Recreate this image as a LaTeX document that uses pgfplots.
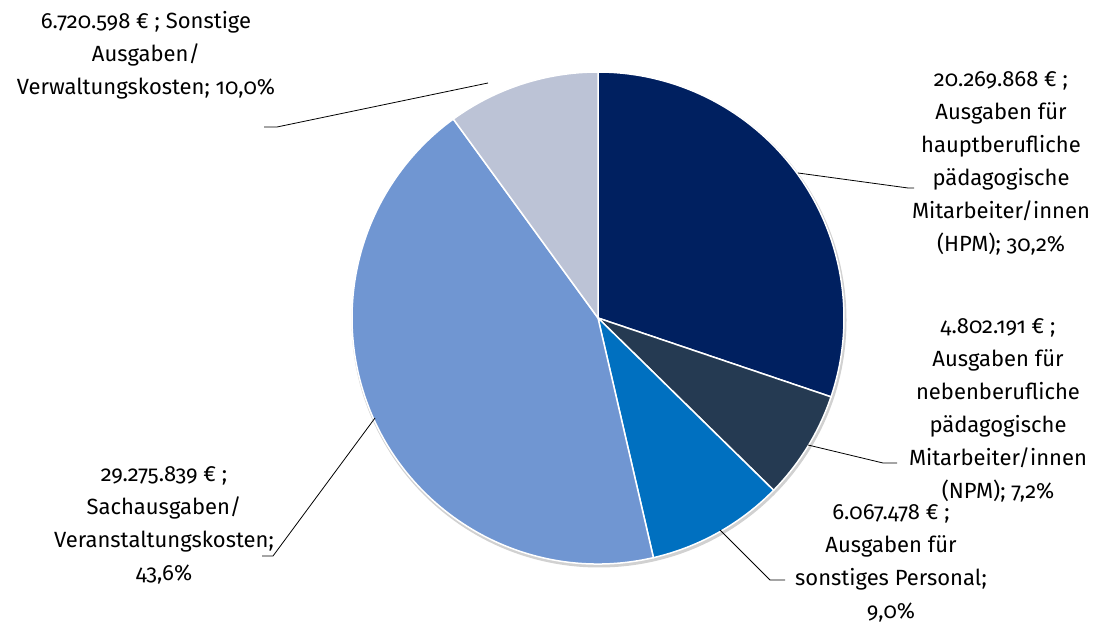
\documentclass[border=0pt]{standalone}
\usepackage{pgfplots}
\usepackage{pgfplotstable}
\pgfplotsset{compat=1.18}
\usepackage{fontspec}
\setmainfont{Fira Sans}[Numbers=OldStyle]
\definecolor{cHPM}{HTML}{002060}
\definecolor{cNPM}{HTML}{253A52}
\definecolor{cSP}{HTML}{0070C0}
\definecolor{cSach}{HTML}{7096D2}
\definecolor{cSonst}{HTML}{BCC3D6}
% values in million euro, clockwise from 12 o'clock
\pgfplotstableread{
value
20.269868
4.802191
6.067478
29.275839
6.720598
}\datatable
\pgfmathsetmacro\total{20.269868+4.802191+6.067478+29.275839+6.720598}
\def\cum{0}
\pgfplotsforeachungrouped \i in {0,...,4}{%
  \pgfplotstablegetelem{\i}{value}\of\datatable
  \pgfmathsetmacro\a{90-360*(\cum/\total)}%
  \pgfmathsetmacro\newcum{\cum+\pgfplotsretval}%
  \global\let\cum\newcum
  \pgfmathsetmacro\b{90-360*(\cum/\total)}%
  \expandafter\xdef\csname sa\i\endcsname{\a}%
  \expandafter\xdef\csname sb\i\endcsname{\b}%
}
\newcommand\slice[2]{%
  \fill[#2, draw=white, line width=1.5pt] (axis cs:598,305) -- ++(\csname sa#1\endcsname:246pt)
    arc[start angle=\csname sa#1\endcsname, end angle=\csname sb#1\endcsname, radius=246pt] -- cycle;}
\begin{document}
\begin{tikzpicture}
\begin{axis}[width=1098pt, height=623pt, scale only axis, xmin=0, xmax=1098, ymin=0, ymax=623,
  hide axis, clip=false]
\path (rel axis cs:0,0) (rel axis cs:1,1);
\fill[black!18] (axis cs:599,303) circle[radius=247.5pt];
\slice{0}{cHPM}
\slice{1}{cNPM}
\slice{2}{cSP}
\slice{3}{cSach}
\slice{4}{cSonst}
% leader lines
\addplot[black, line width=0.8pt, mark=none] coordinates {(488,540) (277,496) (264,496)};
\addplot[black, line width=0.8pt, mark=none] coordinates {(798,450) (908,435) (914,435)};
\addplot[black, line width=0.8pt, mark=none] coordinates {(808,178) (883,160) (897,160)};
\addplot[black, line width=0.8pt, mark=none] coordinates {(720,93) (770,43) (785,43)};
\addplot[black, line width=0.8pt, mark=none] coordinates {(375,205) (273,67) (262,67)};
% labels
\tikzset{lbl/.style={align=center, font=\fontsize{22}{33}\selectfont, inner sep=0pt, text=black}}
\node[lbl] at (axis cs:146,568) {6.720.598 € ; Sonstige\\Ausgaben/\\Verwaltungskosten; 10,0\%};
\node[lbl] at (axis cs:1001,460) {20.269.868 € ;\\Ausgaben für\\hauptberufliche\\pädagogische\\Mitarbeiter/innen\\(HPM); 30,2\%};
\node[lbl] at (axis cs:998,213) {4.802.191 € ;\\Ausgaben für\\nebenberufliche\\pädagogische\\Mitarbeiter/innen\\(NPM); 7,2\%};
\node[lbl] at (axis cs:891,60) {6.067.478 € ;\\Ausgaben für\\sonstiges Personal;\\9,0\%};
\node[lbl] at (axis cs:164,98) {29.275.839 € ;\\Sachausgaben/\\Veranstaltungskosten;\\43,6\%};
\end{axis}
\end{tikzpicture}
\end{document}
